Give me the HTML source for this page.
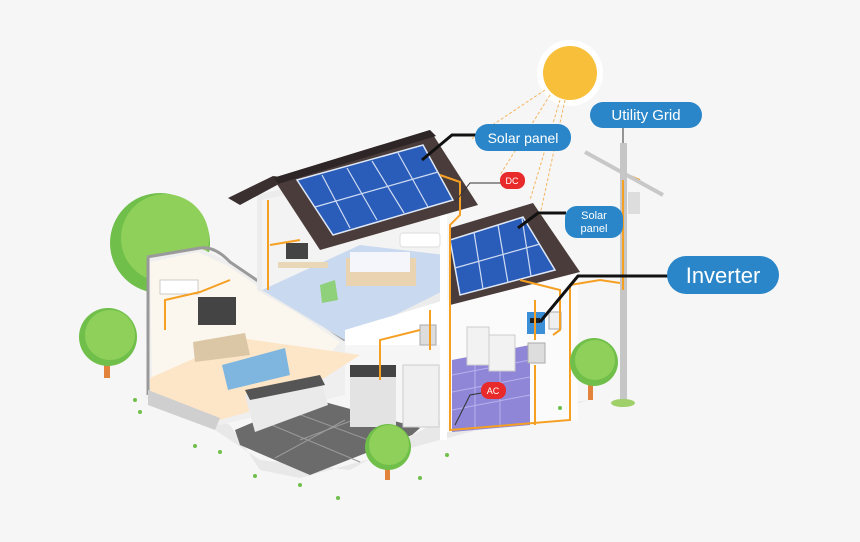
<!DOCTYPE html>
<html><head><meta charset="utf-8"><style>
html,body{margin:0;padding:0;background:#f6f6f6;}
svg{display:block}
text{font-family:"Liberation Sans",sans-serif;}
</style></head><body>
<svg width="860" height="542" viewBox="0 0 860 542" xmlns="http://www.w3.org/2000/svg">
<rect width="860" height="542" fill="#f6f6f6"/>
<circle cx="160" cy="243" r="50" fill="#6fbf4a"/>
<circle cx="165" cy="238" r="44" fill="#8fd05a"/>
<polygon points="140,395 230,425 260,470 300,478 440,440 590,400 440,420 350,470 260,460 215,430" fill="#e8e8e8"/>
<polygon points="147,257 200,248 230,262 345,340 345,395 220,425 147,395" fill="#efefef"/>
<polygon points="150,262 198,252 228,266 340,342 300,390 220,418 152,390" fill="#fbf6ee"/>
<path d="M147,257 L200,248 Q215,246 230,262 L345,340" stroke="#9a9a9a" stroke-width="3" fill="none"/>
<line x1="148" y1="258" x2="148" y2="395" stroke="#999" stroke-width="3"/>
<polygon points="150,378 240,338 360,355 290,400 220,420 150,392" fill="#fde6c8"/>
<polygon points="148,390 220,418 215,430 148,405" fill="#cfcfcf"/>
<polygon points="257,195 440,150 445,340 345,340 257,290" fill="#ececec"/>
<polygon points="262,200 440,160 440,290 300,300 262,290" fill="#f3f3f3"/>
<polygon points="262,290 360,245 445,255 445,290 345,340" fill="#c9d9ef"/>
<polygon points="345,330 445,300 445,345 345,345" fill="#ffffff"/>
<rect x="440" y="200" width="7" height="240" fill="#fff"/>
<polygon points="447,300 578,270 578,420 447,432" fill="#fbfbfb"/>
<polygon points="452,360 530,345 530,425 452,432" fill="#8f86d8"/>
<g stroke="#b8b2ee" stroke-width="1">
<line x1="452" y1="375" x2="530" y2="360"/><line x1="452" y1="392" x2="530" y2="377"/><line x1="452" y1="410" x2="530" y2="395"/>
<line x1="475" y1="356" x2="475" y2="430"/><line x1="500" y1="351" x2="500" y2="428"/></g>
<polygon points="235,430 310,398 420,428 412,435 310,475 240,445" fill="#6b6b6b"/>
<g stroke="#9a9a9a" stroke-width="1">
<line x1="260" y1="420" x2="360" y2="462"/><line x1="285" y1="409" x2="390" y2="448"/><line x1="300" y1="440" x2="380" y2="410"/><line x1="275" y1="458" x2="345" y2="420"/></g>
<polygon points="228,198 273,176 290,178 240,205" fill="#3b3030"/>
<polygon points="273,178 430,130 478,205 320,250" fill="#4a3c3a"/>
<polygon points="273,178 430,130 436,136 278,184" fill="#2e2626"/>
<polygon points="297,180 423,145 453,200 333,235" fill="#2a5cba" stroke="#dfe8f7" stroke-width="1.5"/>
<g stroke="#cfdcf2" stroke-width="1.2">
<line x1="315" y1="207" x2="438" y2="172"/>
<line x1="322" y1="175" x2="350" y2="228"/><line x1="347" y1="168" x2="377" y2="220"/><line x1="372" y1="161" x2="404" y2="213"/><line x1="398" y1="153" x2="428" y2="207"/></g>
<polygon points="450,228 533,203 580,272 450,305" fill="#4a3c3a"/>
<polygon points="450,240 523,217 555,270 460,295" fill="#2a5cba" stroke="#dfe8f7" stroke-width="1.5"/>
<g stroke="#cfdcf2" stroke-width="1.2">
<line x1="455" y1="268" x2="540" y2="244"/>
<line x1="474" y1="232" x2="483" y2="289"/><line x1="498" y1="225" x2="508" y2="283"/><line x1="522" y1="218" x2="531" y2="276"/></g>
<rect x="346" y="258" width="70" height="28" fill="#e9d3b0"/><rect x="350" y="252" width="60" height="20" fill="#f4f6fb"/>
<rect x="400" y="233" width="40" height="14" rx="3" fill="#fff" stroke="#ddd"/>
<rect x="286" y="243" width="22" height="16" fill="#444"/><rect x="278" y="262" width="50" height="6" fill="#e9d8b8"/>
<polygon points="320,285 335,280 338,300 322,303" fill="#8fd07a"/>
<rect x="198" y="297" width="38" height="28" fill="#444"/>
<polygon points="193,342 245,333 250,355 195,362" fill="#dbc7a6"/>
<polygon points="222,365 285,348 290,375 228,390" fill="#7fb6e0"/>
<polygon points="245,395 320,377 328,405 255,432" fill="#eaeaea"/><polygon points="245,390 320,375 325,385 250,400" fill="#555"/>
<rect x="350" y="367" width="46" height="60" fill="#e3e3e3"/><rect x="350" y="365" width="46" height="12" fill="#444"/>
<rect x="403" y="365" width="36" height="62" fill="#f0f0f0" stroke="#ccc"/>
<rect x="160" y="280" width="38" height="14" fill="#fff" stroke="#ccc"/>
<rect x="467" y="327" width="22" height="38" fill="#f2f2f2" stroke="#ccc"/><rect x="489" y="335" width="26" height="36" fill="#f2f2f2" stroke="#ccc"/>
<rect x="420" y="325" width="16" height="20" fill="#ddd" stroke="#aaa"/>
<rect x="527" y="312" width="18" height="22" fill="#3a8fd6"/><rect x="530" y="318" width="10" height="5" fill="#222"/>
<rect x="549" y="312" width="12" height="17" fill="#eee" stroke="#aaa"/>
<rect x="528" y="343" width="17" height="20" fill="#ddd" stroke="#aaa"/>
<g stroke="#f5a023" stroke-width="2" fill="none">
<path d="M440,175 L460,182 L460,215 L450,225 L450,430 L570,420 L570,285 L600,280 L620,283"/>
<path d="M535,300 L535,340 M535,365 L535,425"/>
<path d="M520,280 L540,285 L560,290 L560,330 L553,335"/>
<path d="M165,330 L165,300 L200,292 L230,280"/>
<path d="M268,200 L268,290 M270,245 L300,240"/>
<path d="M380,380 L380,340 L420,330 M430,310 L430,350"/>
<path d="M622,180 L628,175 L640,180"/>
</g>
<circle cx="570" cy="73" r="33" fill="#ffffff"/>
<circle cx="570" cy="73" r="27" fill="#f8c03a"/>
<g stroke="#f5b560" stroke-width="1" stroke-dasharray="3,2">
<line x1="545" y1="90" x2="470" y2="140"/><line x1="550" y1="95" x2="500" y2="175"/><line x1="560" y1="100" x2="530" y2="200"/><line x1="565" y1="100" x2="540" y2="215"/></g>
<line x1="585" y1="152" x2="663" y2="195" stroke="#c8c8c8" stroke-width="4"/>
<rect x="620" y="143" width="7" height="260" fill="#c6c6c6"/>
<line x1="623" y1="180" x2="623" y2="290" stroke="#f5a023" stroke-width="2"/>
<rect x="628" y="192" width="12" height="22" fill="#ddd"/>
<ellipse cx="623" cy="403" rx="12" ry="4" fill="#9fd06a"/>
<rect x="104" y="350" width="6" height="28" fill="#e3823a"/><circle cx="108" cy="337" r="29" fill="#6fbf4a"/><circle cx="110" cy="335" r="25" fill="#8fd05a"/>
<rect x="588" y="375" width="5" height="25" fill="#e3823a"/><circle cx="594" cy="362" r="24" fill="#6fbf4a"/><circle cx="595" cy="360" r="20" fill="#8fd05a"/>
<rect x="385" y="460" width="5" height="20" fill="#e3823a"/><circle cx="388" cy="447" r="23" fill="#6fbf4a"/><circle cx="389" cy="445" r="20" fill="#8fd05a"/>
<g stroke="#111" stroke-width="3" fill="none">
<polyline points="422,160 452,135 478,135"/>
<polyline points="518,228 538,213 566,213"/>
<polyline points="540,322 578,276 668,276"/>
</g>
<g stroke="#333" stroke-width="1" fill="none"><polyline points="455,202 470,183 505,183"/><polyline points="455,425 470,395 487,392"/><line x1="623" y1="127" x2="623" y2="143"/></g>
<rect x="475" y="124" width="96" height="27" rx="13" fill="#2a86c8"/>
<text x="523" y="143" font-size="14" fill="#fff" text-anchor="middle">Solar panel</text>
<rect x="590" y="102" width="112" height="26" rx="13" fill="#2a86c8"/>
<text x="646" y="120" font-size="15" fill="#fff" text-anchor="middle">Utility Grid</text>
<rect x="565" y="206" width="58" height="32" rx="12" fill="#2a86c8"/>
<text x="594" y="219" font-size="11" fill="#fff" text-anchor="middle">Solar</text>
<text x="594" y="232" font-size="11" fill="#fff" text-anchor="middle">panel</text>
<rect x="667" y="256" width="112" height="38" rx="19" fill="#2a86c8"/>
<text x="723" y="283" font-size="22" fill="#fff" text-anchor="middle">Inverter</text>
<rect x="500" y="172" width="25" height="17" rx="8" fill="#e82a2a"/>
<text x="512" y="184" font-size="9" fill="#fff" text-anchor="middle">DC</text>
<rect x="481" y="382" width="25" height="17" rx="8" fill="#e82a2a"/>
<text x="493" y="394" font-size="9" fill="#fff" text-anchor="middle">AC</text>
<g fill="#6fbf4a"><circle cx="135" cy="400" r="2"/><circle cx="140" cy="412" r="2"/><circle cx="195" cy="446" r="2"/><circle cx="220" cy="452" r="2"/><circle cx="255" cy="476" r="2"/><circle cx="300" cy="485" r="2"/><circle cx="338" cy="498" r="2"/><circle cx="420" cy="478" r="2"/><circle cx="447" cy="455" r="2"/><circle cx="560" cy="408" r="2"/></g>
</svg>
</body></html>
